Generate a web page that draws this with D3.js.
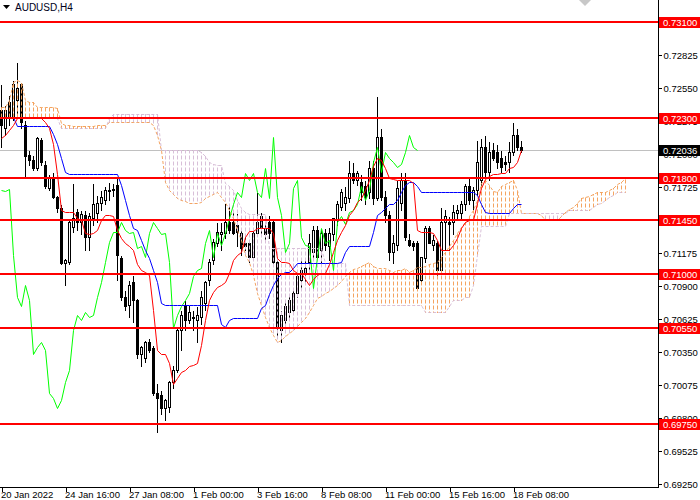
<!DOCTYPE html>
<html lang="en">
<head>
<meta charset="UTF-8">
<title>AUDUSD,H4</title>
<style>
  body { margin: 0; background: #fff; }
  svg { display: block; font-family: "Liberation Sans", Arial, sans-serif; }
  .axis text { font-size: 9.5px; fill: #000; }
  .axis line { stroke: #000; shape-rendering: crispEdges; }
</style>
</head>
<body>
<div id="chart"></div>
<script src="https://d3js.org/d3.v7.min.js"></script>
<script>
// AUDUSD H4 candles, 20 Jan - 18 Feb 2022
const opens = [
  .7237,.7222,.7243,.7231,.7245,.7258,.7224,.7199,.7195,.7188,
  .7212,.7191,.7172,.7181,.7164,.7155,.7109,.7110,.7139,.7152,
  .7143,.7149,.7131,.7147,.7151,.7159,.7162,.7170,.7170,.7174,
  .7113,.7081,.7074,.7093,.7078,.7033,.7030,.7043,.7038,.7001,
  .6999,.6988,.6989,.7010,.7020,.7053,.7074,.7062,.7063,.7062,
  .7064,.7076,.7095,.7112,.7126,.7133,.7134,.7143,.7143,.7141,
  .7134,.7126,.7126,.7114,.7134,.7148,.7138,.7143,.7143,.7110,
  .7053,.7062,.7068,.7070,.7084,.7095,.7102,.7110,.7118,.7137,
  .7120,.7134,.7123,.7133,.7145,.7156,.7159,.7163,.7184,.7178,
  .7177,.7173,.7168,.7188,.7163,.7214,.7164,.7149,.7118,.7124,
  .7159,.7178,.7128,.7126,.7126,.7095,.7113,.7138,.7124,.7126,
  .7103,.7143,.7143,.7143,.7151,.7151,.7158,.7173,.7162,.7170,
  .7178,.7206,.7185,.7203,.7202,.7197,.7193,.7193,.7202,.7216,.7206
];
const highs = [
  .7258,.7241,.7249,.7262,.7277,.7260,.7228,.7203,.7199,.7215,
  .7214,.7195,.7183,.7185,.7166,.7158,.7113,.7145,.7176,.7155,
  .7153,.7153,.7152,.7176,.7166,.7170,.7173,.7177,.7176,.7180,
  .7116,.7087,.7095,.7099,.7080,.7041,.7045,.7047,.7041,.7009,
  .7003,.6997,.7012,.7024,.7055,.7070,.7078,.7074,.7070,.7073,
  .7087,.7095,.7113,.7130,.7143,.7143,.7159,.7159,.7153,.7151,
  .7138,.7133,.7128,.7138,.7168,.7152,.7143,.7149,.7145,.7113,
  .7070,.7077,.7082,.7087,.7101,.7112,.7112,.7134,.7141,.7141,
  .7138,.7138,.7139,.7147,.7162,.7172,.7173,.7195,.7193,.7187,
  .7183,.7178,.7195,.7195,.7248,.7222,.7170,.7153,.7133,.7178,
  .7185,.7185,.7134,.7128,.7128,.7114,.7141,.7141,.7133,.7128,
  .7156,.7154,.7148,.7158,.7158,.7162,.7176,.7180,.7173,.7212,
  .7213,.7216,.7211,.7210,.7208,.7203,.7199,.7211,.7227,.7222,.7212
];
const lows = [
  .7206,.7216,.7224,.7228,.7230,.7222,.7181,.7191,.7187,.7187,
  .7191,.7172,.7170,.7163,.7152,.7108,.7091,.7108,.7135,.7137,
  .7133,.7120,.7120,.7141,.7143,.7153,.7158,.7162,.7165,.7095,
  .7078,.7070,.7064,.7060,.7030,.7023,.7027,.7035,.6999,.6968,
  .6983,.6978,.6985,.7005,.7018,.7037,.7053,.7059,.7053,.7043,
  .7058,.7070,.7091,.7108,.7123,.7120,.7130,.7134,.7133,.7123,
  .7116,.7120,.7110,.7112,.7132,.7133,.7128,.7130,.7108,.7049,
  .7043,.7058,.7063,.7068,.7081,.7089,.7093,.7101,.7113,.7112,
  .7110,.7120,.7112,.7128,.7141,.7153,.7153,.7160,.7176,.7174,
  .7162,.7158,.7163,.7158,.7162,.7162,.7143,.7112,.7109,.7120,
  .7153,.7128,.7123,.7120,.7087,.7093,.7110,.7126,.7120,.7099,
  .7102,.7120,.7120,.7133,.7145,.7147,.7153,.7158,.7153,.7166,
  .7174,.7180,.7178,.7195,.7188,.7185,.7187,.7185,.7199,.7203,.7202
];
const closes = [
  .7224,.7237,.7230,.7258,.7255,.7227,.7198,.7195,.7188,.7213,
  .7193,.7173,.7181,.7164,.7155,.7109,.7112,.7143,.7147,.7143,
  .7150,.7131,.7148,.7158,.7159,.7164,.7170,.7169,.7171,.7116,
  .7081,.7073,.7091,.7078,.7033,.7039,.7043,.7037,.7001,.6997,
  .6988,.6995,.7010,.7020,.7053,.7066,.7062,.7068,.7064,.7066,
  .7081,.7093,.7110,.7127,.7135,.7135,.7143,.7137,.7134,.7135,
  .7122,.7123,.7114,.7134,.7143,.7138,.7133,.7134,.7110,.7055,
  .7066,.7073,.7078,.7084,.7098,.7103,.7105,.7126,.7137,.7114,
  .7134,.7124,.7134,.7147,.7158,.7168,.7164,.7184,.7178,.7184,
  .7168,.7164,.7188,.7163,.7214,.7164,.7149,.7118,.7126,.7172,
  .7178,.7131,.7124,.7123,.7088,.7114,.7138,.7126,.7128,.7103,
  .7143,.7148,.7142,.7152,.7153,.7158,.7173,.7162,.7170,.7193,
  .7206,.7185,.7202,.7197,.7193,.7189,.7192,.7202,.7216,.7206,.72036
];

// Ichimoku lines
const tenkan = [
  .7213,.7216,.7220,.7224,.7230,.7230,.7230,.7230,.7230,.7230,
  .7230,.7227,.7222,.7208,.7183,.7153,.7152,.7152,.7152,.7147,
  .7145,.7134,.7133,.7134,.7137,.7145,.7149,.7149,.7148,.7137,
  .7130,.7126,.7123,.7120,.7108,.7103,.7102,.7099,.7070,.7037,
  .7033,.7033,.7026,.7008,.7013,.7018,.7020,.7023,.7024,.7026,
  .7041,.7062,.7078,.7085,.7089,.7091,.7093,.7101,.7112,.7116,
  .7118,.7131,.7136,.7136,.7138,.7138,.7138,.7138,.7134,.7113,
  .7110,.7110,.7109,.7103,.7101,.7101,.7096,.7091,.7096,.7099,
  .7101,.7101,.7108,.7118,.7128,.7135,.7141,.7149,.7153,.7160,
  .7163,.7170,.7178,.7190,.7197,.7195,.7188,.7180,.7179,.7178,
  .7178,.7178,.7178,.7176,.7137,.7135,.7135,.7135,.7134,.7128,
  .7120,.7120,.7120,.7124,.7130,.7138,.7143,.7145,.7145,.7159,
  .7172,.7179,.7182,.7183,.7183,.7184,.7184,.7188,.7189,.7193,.7203
];
const kijun = [
  .7231,.7231,.7231,.7231,.7223,.7223,.7223,.7223,.7223,.7223,
  .7223,.7223,.7223,.7217,.7208,.7197,.7185,.7183,.7183,.7183,
  .7183,.7183,.7183,.7183,.7183,.7183,.7183,.7183,.7183,.7183,
  .7174,.7162,.7149,.7138,.7137,.7128,.7120,.7113,.7103,.7093,
  .7076,.7074,.7074,.7074,.7074,.7074,.7074,.7074,.7074,.7074,
  .7074,.7074,.7074,.7074,.7074,.7058,.7056,.7062,.7063,.7063,
  .7063,.7063,.7063,.7063,.7063,.7072,.7074,.7083,.7091,.7097,
  .7100,.7102,.7102,.7105,.7109,.7109,.7109,.7109,.7109,.7109,
  .7109,.7109,.7109,.7109,.7109,.7110,.7118,.7123,.7123,.7123,
  .7123,.7123,.7123,.7135,.7149,.7152,.7155,.7158,.7158,.7162,
  .7168,.7174,.7177,.7177,.7173,.7168,.7168,.7168,.7168,.7168,
  .7168,.7168,.7168,.7168,.7168,.7168,.7168,.7168,.7168,.7166,
  .7158,.7152,.7151,.7151,.7151,.7151,.7151,.7151,.7155,.7158,.7158
];
// Senkou spans, 26 bars ahead of the last candle
const spanA = [
  .7239,.7239,.7245,.7260,.7262,.7260,.7245,.7243,.7243,.7239,
  .7239,.7239,.7239,.7239,.7238,.7226,.7224,.7224,.7223,.7223,
  .7223,.7223,.7223,.7223,.7224,.7224,.7224,.7227,.7227,.7227,
  .7227,.7227,.7227,.7227,.7227,.7227,.7227,.7227,.7224,.7216,
  .7203,.7177,.7170,.7167,.7163,.7162,.7161,.7159,.7159,.7159,
  .7160,.7163,.7165,.7167,.7168,.7164,.7160,.7153,.7147,.7137,
  .7128,.7116,.7110,.7099,.7084,.7074,.7064,.7056,.7049,.7043,
  .7045,.7048,.7051,.7053,.7057,.7060,.7063,.7068,.7074,.7080,
  .7082,.7084,.7086,.7088,.7091,.7094,.7098,.7102,.7104,.7105,
  .7107,.7108,.7110,.7107,.7105,.7105,.7105,.7103,.7102,.7103,
  .7103,.7105,.7102,.7103,.7106,.7106,.7107,.7108,.7109,.7110,
  .7114,.7118,.7123,.7128,.7134,.7139,.7143,.7148,.7153,.7162,
  .7176,.7178,.7174,.7169,.7168,.7173,.7175,.7177,.7178,.7170,
  .7151,.7151,.7151,.7151,.7151,.7149,.7145,.7145,.7145,.7145,
  .7148,.7152,.7154,.7156,.7159,.7163,.7164,.7165,.7167,.7168,
  .7168,.7168,.7170,.7172,.7175,.7177,.7180
];
const spanB = [
  .7230,.7230,.7230,.7230,.7230,.7230,.7230,.7230,.7230,.7230,
  .7230,.7230,.7230,.7230,.7230,.7222,.7222,.7222,.7222,.7222,
  .7222,.7222,.7222,.7222,.7222,.7222,.7222,.7230,.7233,.7233,
  .7233,.7233,.7233,.7233,.7233,.7233,.7233,.7233,.7233,.7233,
  .7203,.7203,.7203,.7203,.7203,.7203,.7203,.7203,.7203,.7203,
  .7202,.7198,.7193,.7192,.7191,.7191,.7176,.7173,.7170,.7162,
  .7155,.7152,.7150,.7150,.7150,.7150,.7150,.7122,.7122,.7122,
  .7122,.7122,.7122,.7122,.7122,.7122,.7122,.7122,.7122,.7122,
  .7122,.7109,.7109,.7109,.7109,.7109,.7109,.7074,.7074,.7074,
  .7074,.7074,.7074,.7074,.7074,.7074,.7074,.7074,.7074,.7074,
  .7074,.7074,.7074,.7074,.7074,.7074,.7068,.7068,.7068,.7068,
  .7068,.7068,.7073,.7078,.7078,.7078,.7081,.7081,.7091,.7116,
  .7140,.7140,.7140,.7140,.7140,.7140,.7140,.7151,.7151,.7151,
  .7151,.7151,.7151,.7151,.7151,.7151,.7151,.7151,.7151,.7151,
  .7151,.7151,.7153,.7153,.7153,.7153,.7153,.7153,.7156,.7158,
  .7159,.7162,.7164,.7166,.7168,.7168,.7168
];

const levels = [0.7310, 0.7230, 0.7180, 0.7145, 0.7100, 0.7055, 0.6975];
const lastPrice = 0.72036;
const priceTicks = [0.69250, 0.69525, 0.69800, 0.70075, 0.70350, 0.70625, 0.70900,
  0.71175, 0.71450, 0.71725, 0.72000, 0.72275, 0.72550, 0.72825, 0.73100];
const dateBars = [0, 16, 32, 48, 64, 80, 96, 112, 128];
const dateLabels = ["20 Jan 2022", "24 Jan 16:00", "27 Jan 08:00", "1 Feb 00:00",
  "3 Feb 16:00", "8 Feb 08:00", "11 Feb 00:00", "15 Feb 16:00", "18 Feb 08:00"];
const chikouShift = 26;

const W = 700, H = 500, plotW = 658, plotH = 487;
const upKumo = '#f4a460', downKumo = '#d8bfd8';

const x = d3.scaleLinear().domain([0, 164]).range([1.5, 657.5]);
const y = d3.scaleLinear().domain([0.6925, 0.7310]).range([484, 22]);
const py = v => Math.round(y(v)) + 0.5;

const svg = d3.select('#chart').append('svg')
  .attr('width', W).attr('height', H);

svg.append('rect').attr('width', W).attr('height', H).attr('fill', '#fff');

// bid line
svg.append('line')
  .attr('x1', 0).attr('x2', plotW)
  .attr('y1', py(lastPrice)).attr('y2', py(lastPrice))
  .attr('stroke', '#c0c0c0').attr('shape-rendering', 'crispEdges');

// candles
const bars = d3.range(closes.length);
const cg = svg.append('g').attr('shape-rendering', 'crispEdges');
cg.selectAll('line').data(bars).join('line')
  .attr('x1', i => x(i)).attr('x2', i => x(i))
  .attr('y1', i => py(highs[i])).attr('y2', i => py(lows[i]))
  .attr('stroke', '#000');
cg.selectAll('rect').data(bars).join('rect')
  .attr('x', i => x(i) - 1)
  .attr('width', 2)
  .attr('y', i => py(Math.max(opens[i], closes[i])))
  .attr('height', i => Math.max(0.01, py(Math.min(opens[i], closes[i])) - py(Math.max(opens[i], closes[i]))))
  .attr('fill', i => closes[i] >= opens[i] ? '#fff' : '#000')
  .attr('stroke', '#000');

// kumo hatching, one dotted stroke per bar, dashes kept on a common grid
const kg = svg.append('g');
kg.selectAll('path').data(d3.range(spanA.length)).join('path')
  .attr('d', i => {
    const top = Math.min(py(spanA[i]), py(spanB[i])) - 0.5;
    const bot = Math.max(py(spanA[i]), py(spanB[i])) - 0.5;
    return `M${x(i)},${top}V${bot + 1}`;
  })
  .attr('stroke-dashoffset', i => Math.min(py(spanA[i]), py(spanB[i])) % 6)
  .attr('stroke', i => spanA[i] >= spanB[i] ? upKumo : downKumo)
  .attr('stroke-width', 1)
  .attr('stroke-dasharray', '4,2');

const line = d3.line().x((d, i) => x(i)).y(d => py(d));
svg.append('path').attr('d', line(spanA)).attr('fill', 'none')
  .attr('stroke', upKumo).attr('stroke-dasharray', '3,2');
svg.append('path').attr('d', line(spanB)).attr('fill', 'none')
  .attr('stroke', downKumo).attr('stroke-dasharray', '3,2');

const chikou = closes.slice(chikouShift);
svg.append('path').attr('d', line(chikou)).attr('fill', 'none').attr('stroke', '#00ff00');
svg.append('path').attr('d', line(kijun)).attr('fill', 'none').attr('stroke', '#0000ff');
svg.append('path').attr('d', line(tenkan)).attr('fill', 'none').attr('stroke', '#ff0000');

// horizontal levels
svg.append('g').selectAll('line').data(levels).join('line')
  .attr('x1', 0).attr('x2', plotW)
  .attr('y1', d => Math.round(y(d))).attr('y2', d => Math.round(y(d)))
  .attr('stroke', '#ff0000').attr('stroke-width', 2)
  .attr('shape-rendering', 'crispEdges');

// frame
svg.append('path')
  .attr('d', `M${plotW + 0.5},0V${plotH + 0.5}H0`)
  .attr('fill', 'none').attr('stroke', '#000')
  .attr('shape-rendering', 'crispEdges');

// price axis
svg.append('g').attr('class', 'axis')
  .attr('transform', `translate(${plotW + 0.5},0)`)
  .call(d3.axisRight(y).tickValues(priceTicks).tickFormat(d3.format('.5f'))
    .tickSize(3).tickPadding(2).tickSizeOuter(0))
  .call(g => g.select('.domain').remove());

// time axis
svg.append('g').attr('class', 'axis')
  .attr('transform', `translate(0,${plotH + 0.5})`)
  .call(d3.axisBottom(x).tickValues(dateBars).tickFormat((d, i) => dateLabels[i])
    .tickSize(4).tickPadding(0).tickSizeOuter(0))
  .call(g => g.select('.domain').remove())
  .call(g => g.selectAll('text').attr('text-anchor', 'start').attr('x', -1));

// level tags
const tags = levels.map(v => ({ v, fill: '#ff0000' })).concat([{ v: lastPrice, fill: '#000' }]);
const tg = svg.append('g');
tg.selectAll('rect').data(tags).join('rect')
  .attr('x', plotW + 1).attr('width', W - plotW - 1)
  .attr('y', d => Math.round(y(d.v)) - 5).attr('height', 11)
  .attr('fill', d => d.fill);
tg.selectAll('text').data(tags).join('text')
  .attr('x', plotW + 5).attr('y', d => Math.round(y(d.v)) + 4)
  .attr('font-size', 9.5).attr('fill', '#fff')
  .text(d => d3.format('.5f')(d.v));

// title
svg.append('path').attr('d', 'M3,5H10L6.5,9Z').attr('fill', '#000');
svg.append('text').attr('x', 15).attr('y', 11)
  .attr('font-size', 10).attr('fill', '#000020')
  .text('AUDUSD,H4');

// shift marker
svg.append('path').attr('d', 'M579,0H591L585,6Z').attr('fill', '#c8c8c8');
</script>
</body>
</html>
